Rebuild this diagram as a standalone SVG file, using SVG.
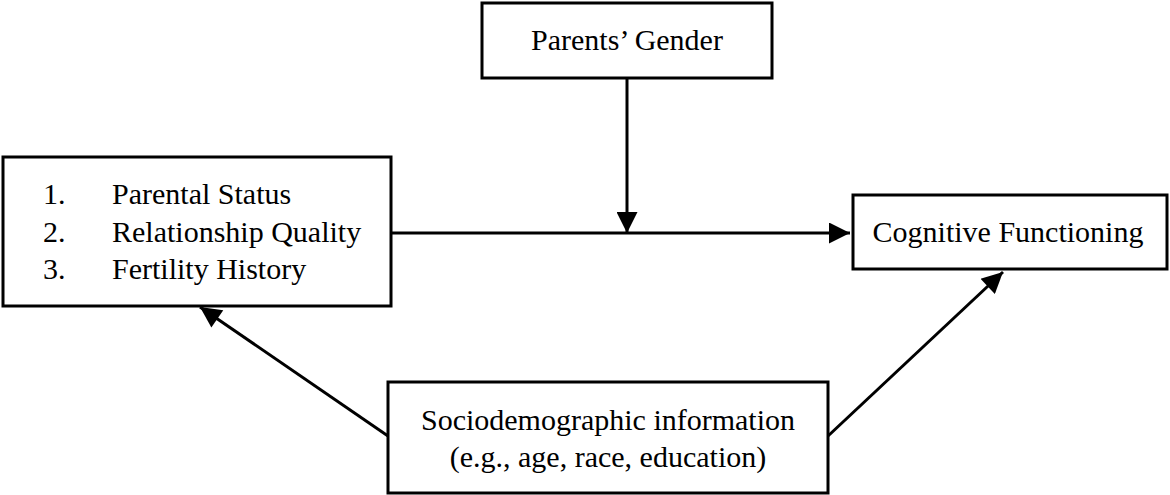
<svg xmlns="http://www.w3.org/2000/svg" width="1170" height="495" viewBox="0 0 1170 495">
<style>
.box{fill:#fff;stroke:#000;stroke-width:3}
.t{font-family:"Liberation Serif","Times New Roman",serif;font-size:30px;fill:#000}
.c{text-anchor:middle}
.ln{stroke:#000;stroke-width:3;fill:none}
</style>
<defs>
<marker id="ah" viewBox="0 0 10 10" refX="10" refY="5" markerWidth="7.5" markerHeight="7" markerUnits="strokeWidth" orient="auto">
<path d="M0,0 L10,5 L0,10 z" fill="#000"/>
</marker>
</defs>
<rect width="1170" height="495" fill="#fff"/>
<g id="connectors">
<line class="ln" x1="391" y1="233" x2="850" y2="233" marker-end="url(#ah)"/>
<line class="ln" x1="627" y1="78" x2="627" y2="233" marker-end="url(#ah)"/>
<line class="ln" x1="388" y1="436" x2="200" y2="307" marker-end="url(#ah)"/>
<line class="ln" x1="828" y1="436" x2="1003" y2="272" marker-end="url(#ah)"/>
</g>
<g id="node-parents-gender">
<rect class="box" x="482" y="3" width="290" height="75"/>
<text class="t c" x="627" y="50">Parents’ Gender</text>
</g>
<g id="node-predictors">
<rect class="box" x="3" y="157" width="388" height="149"/>
<text class="t" x="43" y="204">1.</text>
<text class="t" x="112" y="204">Parental Status</text>
<text class="t" x="43" y="242">2.</text>
<text class="t" x="112" y="242">Relationship Quality</text>
<text class="t" x="43" y="279">3.</text>
<text class="t" x="112" y="279">Fertility History</text>
</g>
<g id="node-cognitive">
<rect class="box" x="853" y="195" width="314" height="74"/>
<text class="t c" x="1008" y="242">Cognitive Functioning</text>
</g>
<g id="node-socio">
<rect class="box" x="388" y="382" width="440" height="111"/>
<text class="t c" x="608" y="430">Sociodemographic information</text>
<text class="t c" x="608" y="467">(e.g., age, race, education)</text>
</g>
</svg>
